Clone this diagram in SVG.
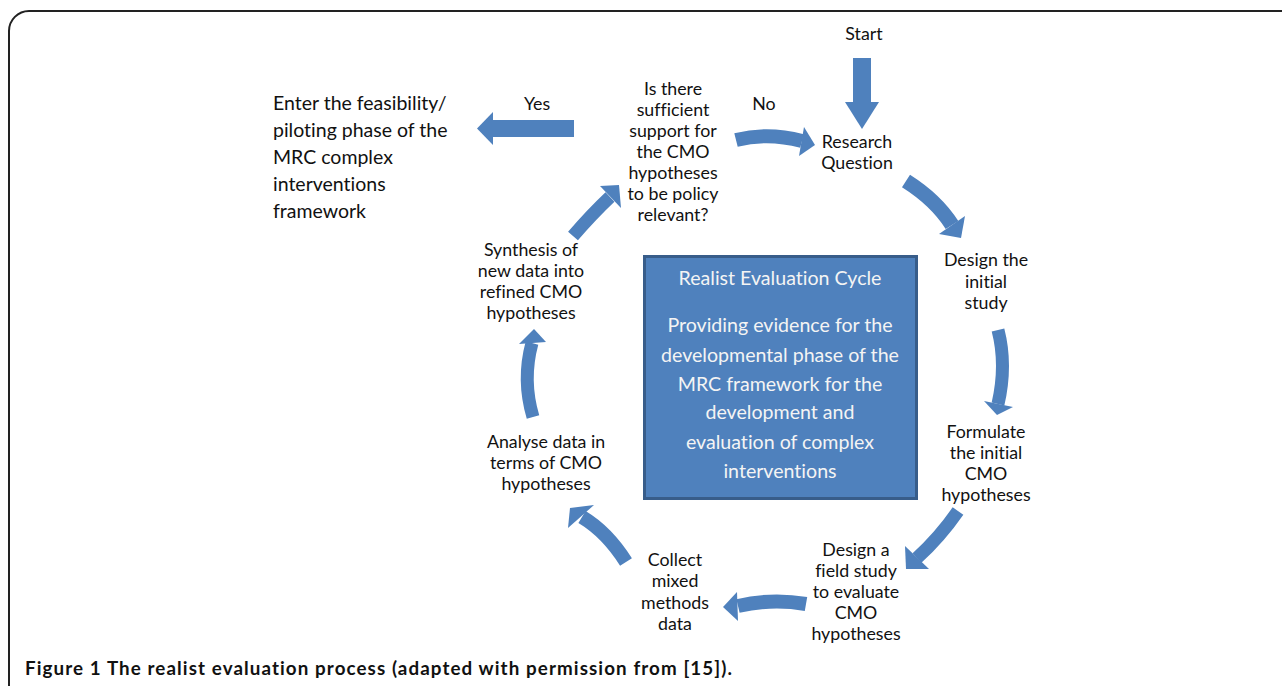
<svg xmlns="http://www.w3.org/2000/svg" width="1282" height="686" viewBox="0 0 1282 686">
<defs>
<style>
text{font-variant-ligatures:none}
.t{font-family:Lato,"Liberation Sans",sans-serif;font-size:17.8px;fill:#111;text-anchor:middle}
.tl{text-anchor:start;font-size:19.5px}
.bx{font-family:Lato,"Liberation Sans",sans-serif;font-size:19.6px;fill:#F4F4F4;text-anchor:middle}
.sh{fill:none;stroke:#4F81BD;stroke-linecap:butt}
.hd{fill:#4F81BD}
.cap{font-family:Lato,"Liberation Sans",sans-serif;font-size:18.8px;font-weight:bold;fill:#111}
</style>
</defs>
<rect width="1282" height="686" fill="#fff"/>
<path d="M9,686 V31 A20,20 0 0 1 29,11 H1282" fill="none" stroke="#222" stroke-width="2"/>

<g id="connectors">
<path class="sh" d="M862,58 V103" stroke-width="18"/>
<polygon class="hd" points="845,102 879,102 862,129"/>
<path class="sh" d="M574,128.5 H492" stroke-width="17"/>
<polygon class="hd" points="493,112 493,145 477,128.5"/>
<path class="sh" d="M736,140 Q768,132 802,141" stroke-width="14"/>
<polygon class="hd" points="804,127 799,156 815,145"/>
<path class="sh" d="M906,181 Q936,200 952,225" stroke-width="15"/>
<polygon class="hd" points="965,216 939,234 961,238"/>
<path class="sh" d="M998,330 Q1007,365 998,404" stroke-width="13"/>
<polygon class="hd" points="1013,407 984,401 997,415"/>
<path class="sh" d="M958,511 Q940,537 917,558" stroke-width="13"/>
<polygon class="hd" points="905,546 929,569 906,569"/>
<path class="sh" d="M806,604 Q772,598 738,606" stroke-width="14"/>
<polygon class="hd" points="737,592 738,621 723,607"/>
<path class="sh" d="M626,562 Q607,532 582,517" stroke-width="14"/>
<polygon class="hd" points="568,528 594,505 570,508"/>
<path class="sh" d="M533,417 Q522,380 532,343" stroke-width="13"/>
<polygon class="hd" points="519,344 546,342 534,329"/>
<path class="sh" d="M573,236 Q592,214 610,197" stroke-width="13"/>
<polygon class="hd" points="600,186 621,208 619,185"/>
</g>

<g id="center">
<rect x="644.5" y="256.5" width="272" height="242" fill="#4F81BD" stroke="#385D8A" stroke-width="3"/>
<text class="bx" x="780" y="285">Realist Evaluation Cycle</text>
<text class="bx" x="780" y="332">Providing evidence for the</text>
<text class="bx" x="780" y="362">developmental phase of the</text>
<text class="bx" x="780" y="391">MRC framework for the</text>
<text class="bx" x="780" y="419">development and</text>
<text class="bx" x="780" y="449">evaluation of complex</text>
<text class="bx" x="780" y="478">interventions</text>
</g>

<g id="start"><text class="t" x="864" y="40">Start</text></g>
<g id="decision">
<text class="t" x="673" y="95">Is there</text>
<text class="t" x="673" y="116">sufficient</text>
<text class="t" x="673" y="137">support for</text>
<text class="t" x="673" y="158">the CMO</text>
<text class="t" x="673" y="179">hypotheses</text>
<text class="t" x="673" y="200">to be policy</text>
<text class="t" x="673" y="221">relevant?</text>
</g>
<g id="label-no"><text class="t" x="764" y="110">No</text></g>
<g id="label-yes"><text class="t" x="537" y="110">Yes</text></g>
<g id="feasibility">
<text class="t tl" x="273" y="110">Enter the feasibility/</text>
<text class="t tl" x="273" y="137">piloting phase of the</text>
<text class="t tl" x="273" y="164">MRC complex</text>
<text class="t tl" x="273" y="191">interventions</text>
<text class="t tl" x="273" y="218">framework</text>
</g>
<g id="research">
<text class="t" x="857" y="148">Research</text>
<text class="t" x="857" y="169">Question</text>
</g>
<g id="design-initial">
<text class="t" x="986" y="266">Design the</text>
<text class="t" x="986" y="288">initial</text>
<text class="t" x="986" y="309">study</text>
</g>
<g id="formulate">
<text class="t" x="986" y="438">Formulate</text>
<text class="t" x="986" y="459">the initial</text>
<text class="t" x="986" y="480">CMO</text>
<text class="t" x="986" y="501">hypotheses</text>
</g>
<g id="design-field">
<text class="t" x="856" y="556">Design a</text>
<text class="t" x="856" y="577">field study</text>
<text class="t" x="856" y="598">to evaluate</text>
<text class="t" x="856" y="619">CMO</text>
<text class="t" x="856" y="640">hypotheses</text>
</g>
<g id="collect">
<text class="t" x="675" y="566">Collect</text>
<text class="t" x="675" y="587">mixed</text>
<text class="t" x="675" y="609">methods</text>
<text class="t" x="675" y="630">data</text>
</g>
<g id="analyse">
<text class="t" x="546" y="448">Analyse data in</text>
<text class="t" x="546" y="469">terms of CMO</text>
<text class="t" x="546" y="490">hypotheses</text>
</g>
<g id="synthesis">
<text class="t" x="531" y="256">Synthesis of</text>
<text class="t" x="531" y="277">new data into</text>
<text class="t" x="531" y="298">refined CMO</text>
<text class="t" x="531" y="319">hypotheses</text>
</g>
<g id="caption">
<text class="cap" x="25" y="675" textLength="707">Figure 1 The realist evaluation process (adapted with permission from [15]).</text>
</g>
</svg>
